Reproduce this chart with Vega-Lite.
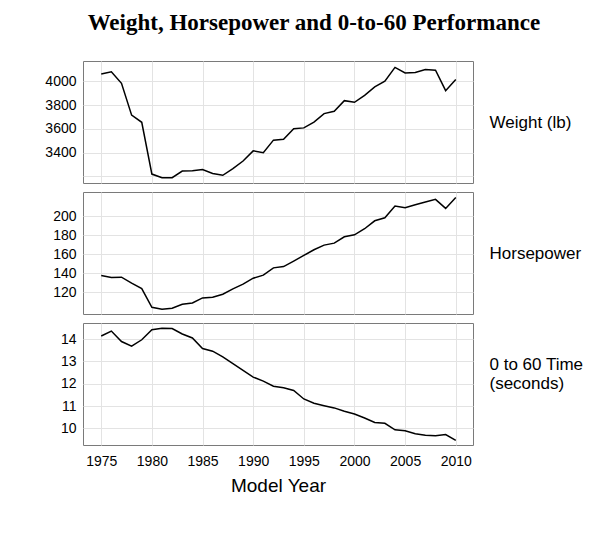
{
  "$schema": "https://vega.github.io/schema/vega-lite/v6.json",
  "padding": {"left": 44, "top": 11, "right": 5, "bottom": 5},
  "background": "white",
  "title": {"text": "Weight, Horsepower and 0-to-60 Performance", "font": "Liberation Serif", "fontSize": 23, "fontWeight": "bold", "color": "black", "anchor": "middle", "offset": 26},
  "datasets": {
    "cars": [
      {"year": 1975, "weight": 4060, "hp": 137.6, "time": 14.14},
      {"year": 1976, "weight": 4079, "hp": 135.5, "time": 14.36},
      {"year": 1977, "weight": 3982, "hp": 135.9, "time": 13.89},
      {"year": 1978, "weight": 3715, "hp": 129.5, "time": 13.68},
      {"year": 1979, "weight": 3655, "hp": 123.9, "time": 13.97},
      {"year": 1980, "weight": 3220, "hp": 104.1, "time": 14.42},
      {"year": 1981, "weight": 3190, "hp": 102.0, "time": 14.48},
      {"year": 1982, "weight": 3190, "hp": 103.1, "time": 14.47},
      {"year": 1983, "weight": 3245, "hp": 107.3, "time": 14.23},
      {"year": 1984, "weight": 3248, "hp": 108.7, "time": 14.05},
      {"year": 1985, "weight": 3258, "hp": 114.0, "time": 13.58},
      {"year": 1986, "weight": 3225, "hp": 114.7, "time": 13.46},
      {"year": 1987, "weight": 3210, "hp": 117.9, "time": 13.20},
      {"year": 1988, "weight": 3265, "hp": 123.5, "time": 12.90},
      {"year": 1989, "weight": 3330, "hp": 128.5, "time": 12.60},
      {"year": 1990, "weight": 3415, "hp": 134.8, "time": 12.30},
      {"year": 1991, "weight": 3400, "hp": 138.0, "time": 12.12},
      {"year": 1992, "weight": 3505, "hp": 145.7, "time": 11.89},
      {"year": 1993, "weight": 3512, "hp": 147.1, "time": 11.82},
      {"year": 1994, "weight": 3600, "hp": 152.8, "time": 11.70},
      {"year": 1995, "weight": 3608, "hp": 158.8, "time": 11.32},
      {"year": 1996, "weight": 3657, "hp": 164.8, "time": 11.13},
      {"year": 1997, "weight": 3728, "hp": 169.7, "time": 11.02},
      {"year": 1998, "weight": 3747, "hp": 171.8, "time": 10.92},
      {"year": 1999, "weight": 3837, "hp": 178.5, "time": 10.77},
      {"year": 2000, "weight": 3823, "hp": 180.6, "time": 10.65},
      {"year": 2001, "weight": 3882, "hp": 187.0, "time": 10.47},
      {"year": 2002, "weight": 3952, "hp": 195.4, "time": 10.27},
      {"year": 2003, "weight": 4000, "hp": 198.6, "time": 10.23},
      {"year": 2004, "weight": 4116, "hp": 210.9, "time": 9.94},
      {"year": 2005, "weight": 4070, "hp": 209.2, "time": 9.90},
      {"year": 2006, "weight": 4073, "hp": 212.3, "time": 9.76},
      {"year": 2007, "weight": 4098, "hp": 215.2, "time": 9.70},
      {"year": 2008, "weight": 4093, "hp": 218.0, "time": 9.67},
      {"year": 2009, "weight": 3921, "hp": 208.5, "time": 9.73},
      {"year": 2010, "weight": 4014, "hp": 220.1, "time": 9.47}
    ]
  },
  "spacing": 7,
  "vconcat": [
    {
      "width": 390, "height": 122,
      "data": {"name": "cars"},
      "encoding": {
        "x": {"field": "year", "type": "quantitative", "scale": {"domain": [1973.2, 2011.7], "nice": false, "zero": false},
              "axis": {"labels": false, "title": null, "values": [1975, 1980, 1985, 1990, 1995, 2000, 2005, 2010]}}
      },
      "layer": [
        {
          "mark": {"type": "line", "color": "black", "strokeWidth": 1.5},
          "encoding": {
            "y": {"field": "weight", "type": "quantitative", "scale": {"domain": [3145, 4170], "nice": false, "zero": false},
                  "axis": {"title": null, "values": [3200, 3400, 3600, 3800, 4000], "labelExpr": "datum.value == 3200 ? '' : datum.value", "format": "d"}}
          }
        },
        {
          "mark": {"type": "line", "color": "black", "opacity": 0},
          "encoding": {
            "y": {"field": "weight", "type": "quantitative", "scale": {"domain": [3145, 4170], "nice": false, "zero": false},
                  "axis": {"orient": "right", "title": "Weight (lb)", "labels": false, "grid": false, "titleAngle": 0, "titleAlign": "left", "titleBaseline": "middle", "titlePadding": 16, "titleFontSize": 17}}
          }
        }
      ],
      "resolve": {"axis": {"y": "independent"}}
    },
    {
      "width": 390, "height": 122,
      "data": {"name": "cars"},
      "encoding": {
        "x": {"field": "year", "type": "quantitative", "scale": {"domain": [1973.2, 2011.7], "nice": false, "zero": false},
              "axis": {"labels": false, "title": null, "values": [1975, 1980, 1985, 1990, 1995, 2000, 2005, 2010]}}
      },
      "layer": [
        {
          "mark": {"type": "line", "color": "black", "strokeWidth": 1.5},
          "encoding": {
            "y": {"field": "hp", "type": "quantitative", "scale": {"domain": [97, 225.8], "nice": false, "zero": false},
                  "axis": {"title": null, "values": [120, 140, 160, 180, 200]}}
          }
        },
        {
          "mark": {"type": "line", "color": "black", "opacity": 0},
          "encoding": {
            "y": {"field": "hp", "type": "quantitative", "scale": {"domain": [97, 225.8], "nice": false, "zero": false},
                  "axis": {"orient": "right", "title": "Horsepower", "labels": false, "grid": false, "titleAngle": 0, "titleAlign": "left", "titleBaseline": "middle", "titlePadding": 16, "titleFontSize": 17}}
          }
        }
      ],
      "resolve": {"axis": {"y": "independent"}}
    },
    {
      "width": 390, "height": 122,
      "data": {"name": "cars"},
      "encoding": {
        "x": {"field": "year", "type": "quantitative", "scale": {"domain": [1973.2, 2011.7], "nice": false, "zero": false},
              "axis": {"title": "Model Year", "values": [1975, 1980, 1985, 1990, 1995, 2000, 2005, 2010], "format": "d", "labelPadding": 9, "titlePadding": 8}}
      },
      "layer": [
        {
          "mark": {"type": "line", "color": "black", "strokeWidth": 1.5},
          "encoding": {
            "y": {"field": "time", "type": "quantitative", "scale": {"domain": [9.26, 14.72], "nice": false, "zero": false},
                  "axis": {"title": null, "values": [10, 11, 12, 13, 14]}}
          }
        },
        {
          "mark": {"type": "line", "color": "black", "opacity": 0},
          "encoding": {
            "y": {"field": "time", "type": "quantitative", "scale": {"domain": [9.26, 14.72], "nice": false, "zero": false},
                  "axis": {"orient": "right", "title": ["0 to 60 Time", "(seconds)"], "labels": false, "grid": false, "titleAngle": 0, "titleAlign": "left", "titleBaseline": "middle", "titlePadding": 16, "titleFontSize": 17, "titleLineHeight": 19, "titleX": 16, "titleY": 41}}
          }
        }
      ],
      "resolve": {"axis": {"y": "independent"}}
    }
  ],
  "config": {
    "view": {"stroke": "#7a7a7a", "strokeWidth": 1},
    "axis": {
      "labelFont": "Liberation Sans", "labelFontSize": 14, "labelColor": "black",
      "titleFont": "Liberation Sans", "titleFontSize": 19, "titleFontWeight": "normal", "titleColor": "black",
      "ticks": false, "domain": false, "labelPadding": 7,
      "grid": true, "gridColor": "#e3e3e3", "gridWidth": 1
    }
  }
}
